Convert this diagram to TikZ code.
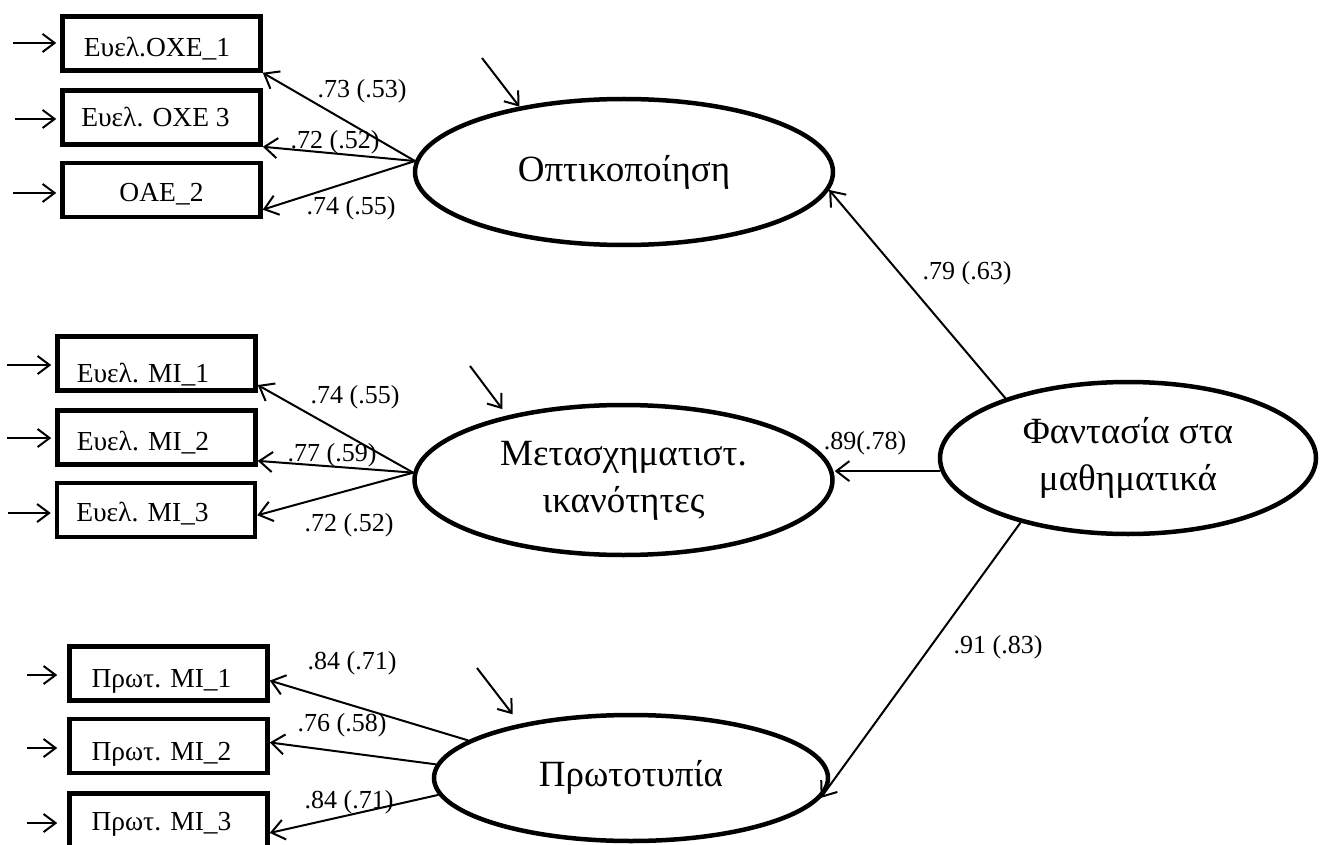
\documentclass[tikz,border=0pt]{standalone}
\usepackage{fontspec}
\setmainfont{Liberation Serif}
\usetikzlibrary{arrows.meta,shapes.geometric,calc}
\begin{document}
\begin{tikzpicture}[x=1pt,y=-1pt,
  obs/.style={draw,line width=4.5pt,minimum width=198pt,minimum height=54pt,inner sep=0pt,text height=26.5pt,text depth=0pt,font=\fontsize{27.5}{32}\selectfont},
  lat/.style={draw,ellipse,line width=4.5pt,inner sep=0pt,font=\fontsize{37}{47}\selectfont},
  con/.style={line width=2pt,-{Straight Barb[length=13pt,width=20pt]}},
  err/.style={line width=2pt,-{Straight Barb[length=12pt,width=18pt]}},
  lab/.style={font=\fontsize{26}{30}\selectfont,inner sep=0pt},
]
\fill[white] (0,0) rectangle (1325,845);
\useasboundingbox (0,0) rectangle (1325,845);
\clip (0,0) rectangle (1325,845);

% observed variables
\node[obs] (b1) at (161.5,43.5) {\kern-9pt Ευελ.OXE\_1};
\node[obs,text height=18.5pt] (b2) at (161.5,117.5) {\kern-12pt Ευελ. OXE 3};
\node[obs,text height=22.5pt] (b3) at (161.5,190) {OAE\_2};
\node[obs,text height=37pt] (b4) at (156.5,363.5) {\kern-27pt Ευελ. MI\_1};
\node[obs] (b5) at (156.5,437.5) {\kern-27pt Ευελ. MI\_2};
\node[obs,text height=22.5pt] (b6) at (156,510) {\kern-27pt Ευελ. MI\_3};
\node[obs,text height=28.5pt] (b7) at (168.5,673.5) {\kern-14pt Πρωτ. MI\_1};
\node[obs,text height=29.5pt] (b8) at (168.5,746) {\kern-14pt Πρωτ. MI\_2};
\node[obs,text height=20.5pt] (b9) at (168.5,820.5) {\kern-14pt Πρωτ. MI\_3};

% latent variables
\node[lat,minimum width=418pt,minimum height=146pt] (opt) at (624,172) {\raisebox{4pt}{Οπτικοποίηση}};
\node[lat,minimum width=418pt,minimum height=150pt] (mid) at (623.5,480) {\raisebox{-7pt}{\begin{tabular}{@{}c@{}}Μετασχηματιστ.\\ικανότητες\end{tabular}}};
\node[lat,minimum width=394pt,minimum height=126pt] (pro) at (631,778) {\raisebox{9pt}{Πρωτοτυπία}};
\node[lat,minimum width=376pt,minimum height=152pt] (fan) at (1128,458) {\raisebox{-6pt}{\begin{tabular}{@{}c@{}}Φαντασία στα\\μαθηματικά\end{tabular}}};

% error terms
\coordinate (e1) at (13,43);
\coordinate (e2) at (15,119);
\coordinate (e3) at (13,193);
\coordinate (e4) at (7,365);
\coordinate (e5) at (7,438);
\coordinate (e6) at (8,513);
\coordinate (e7) at (27,675);
\coordinate (e8) at (27,748);
\coordinate (e9) at (27,823);
\draw[err,shorten >=4pt] (e1) -- (e1 -| b1.west);
\draw[err,shorten >=4pt] (e2) -- (e2 -| b2.west);
\draw[err,shorten >=4pt] (e3) -- (e3 -| b3.west);
\draw[err,shorten >=4pt] (e4) -- (e4 -| b4.west);
\draw[err,shorten >=4pt] (e5) -- (e5 -| b5.west);
\draw[err,shorten >=4pt] (e6) -- (e6 -| b6.west);
\draw[err,shorten >=10pt] (e7) -- (e7 -| b7.west);
\draw[err,shorten >=10pt] (e8) -- (e8 -| b8.west);
\draw[err,shorten >=10pt] (e9) -- (e9 -| b9.west);

% disturbances
\coordinate (d1) at (482,58);
\coordinate (d2) at (470,366);
\coordinate (d3) at (477,668);
\draw[err] (d1) -- (opt.148);
\draw[err,shorten >=8pt] (d2) -- (mid.151);
\draw[err,shorten >=12pt] (d3) -- (pro.154);

% loadings
\draw[con] (opt.177) -- (b1.south east);
\draw[con] (opt.177) -- (b2.south east);
\draw[con] (opt.177) -- (b3.-11);
\draw[con] (mid.178) -- (b4.-12);
\draw[con] (mid.178) -- (b5.-13);
\draw[con] (mid.178) -- (b6.-3);
\draw[con] (pro.167) -- (b7.-4);
\draw[con] (pro.176) -- (b8.2);
\draw[con] (pro.185) -- (b9.-7);

% structural paths
\draw[con] (fan.154) -- (opt.-5);
\draw[con] (fan.184) -- (fan.184 -| mid.east);
\draw[con] (fan.211) -- (pro.-6);

% labels
\node[lab] (l1) at (362,91) {.73 (.53)};
\node[lab] (l2) at (335,142) {.72 (.52)};
\node[lab] (l3) at (351,208) {.74 (.55)};
\node[lab] (l4) at (355,397) {.74 (.55)};
\node[lab] (l5) at (332,455) {.77 (.59)};
\node[lab] (l6) at (349,525) {.72 (.52)};
\node[lab] (l7) at (352,663) {.84 (.71)};
\node[lab] (l8) at (342,725) {.76 (.58)};
\node[lab] (l9) at (349,802) {.84 (.71)};
\node[lab] (l10) at (967,273) {.79 (.63)};
\node[lab] (l11) at (865,443) {.89(.78)};
\node[lab] (l12) at (998,647) {.91 (.83)};
\end{tikzpicture}
\end{document}
